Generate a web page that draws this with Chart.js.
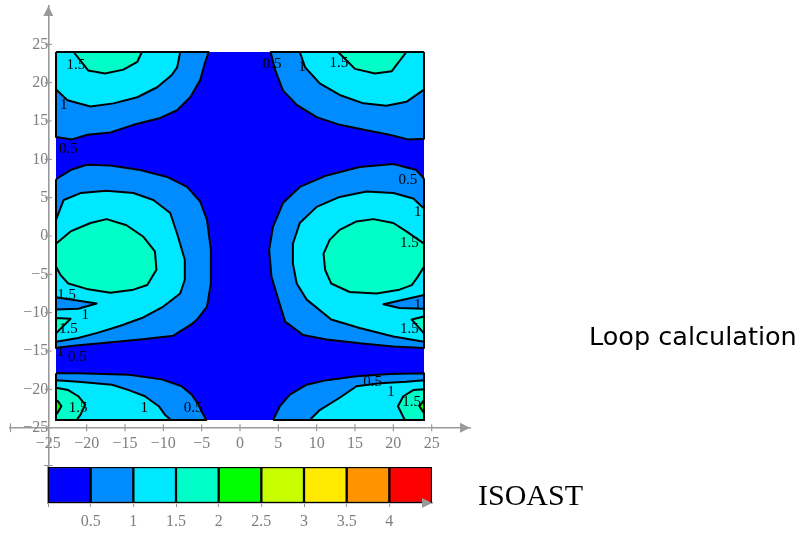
<!DOCTYPE html>
<html>
<head>
<meta charset="utf-8">
<script src="https://cdn.jsdelivr.net/npm/chart.js@4/dist/chart.umd.min.js"></script>
<style>
  html, body { margin: 0; padding: 0; background: #fff; }
  #wrap { position: relative; width: 802px; height: 537px; overflow: hidden; }
  #main { position: absolute; left: 0; top: 0; }
  #scale { position: absolute; left: 0; top: 455px; }
</style>
</head>
<body>
<div id="wrap">
  <canvas id="main" width="802" height="537"></canvas>
  <canvas id="scale" width="802" height="82"></canvas>
</div>
<script>
// ---- axis ticks and colour levels ----
const axisTicks = [-25, -20, -15, -10, -5, 0, 5, 10, 15, 20, 25];
const levelLow  = [0, 0.5, 1, 1.5, 2, 2.5, 3, 3.5, 4];
const levelHigh = [0.5, 1, 1.5, 2, 2.5, 3, 3.5, 4, 4.5];
const levelTicks = [0, 0.5, 1, 1.5, 2, 2.5, 3, 3.5, 4];
const levelColors = ['#0000ff', '#008cff', '#00e8ff', '#00ffc8', '#00ff00',
                     '#c8ff00', '#ffea00', '#ff9400', '#ff0000'];

// computed field covers the square [-24, 24] x [-24, 24]
const fieldArea = [[-24, -24], [24, -24], [24, 24], [-24, 24]];

// ---- iso-regions, one closed ring per region, [x, y] ----
// upper left
const tl05 = [[-24,24],[-4.1,24],[-4.6,22.5],[-5.2,20.3],[-6.5,18.1],[-8.2,16.4],[-10.4,15.4],[-13.9,14.5],[-16.9,13.5],[-19.9,13.2],[-21.9,12.6],[-24,12.9]];
const tl10 = [[-24,24],[-7.8,24],[-8.2,22.0],[-8.9,21.0],[-10.8,19.4],[-13.4,18.1],[-16.5,17.3],[-19.5,16.9],[-22.5,17.7],[-24,19.1]];
const tl15 = [[-21.7,24],[-12.8,24],[-13.4,22.7],[-15.2,21.7],[-17.6,21.2],[-19.8,21.6]];
// upper right
const tr05 = [[24,24],[4.0,24],[4.6,21.6],[5.6,19.0],[7.4,17.1],[10.0,15.5],[13.0,14.5],[16.5,13.8],[19.5,13.2],[21.9,12.6],[24,12.7]];
const tr10 = [[24,24],[7.8,24],[8.5,22.0],[10.4,19.9],[13.0,18.4],[16.1,17.3],[19.1,17.0],[21.7,17.5],[24,19.1]];
const tr15 = [[21.7,24],[12.8,24],[15.0,21.8],[17.6,21.2],[19.8,21.5]];
// middle left
const ml05 = [[-24,7.4],[-22.1,8.6],[-20.0,9.3],[-16.9,9.2],[-13.0,8.6],[-9.5,7.7],[-6.9,6.4],[-5.2,4.5],[-4.3,2.1],[-3.8,-1.8],[-3.8,-6.2],[-4.3,-9.2],[-5.6,-10.9],[-6.3,-11.5],[-8.7,-13.0],[-13.0,-13.5],[-18.2,-14.0],[-21.7,-14.3],[-24,-14.6]];
const ml10 = [[-24,2.1],[-23.0,4.7],[-20.8,5.6],[-17.4,5.9],[-13.9,5.6],[-11.3,4.7],[-9.1,3.0],[-8.2,0.3],[-7.2,-3.1],[-7.2,-5.7],[-7.8,-7.5],[-10.0,-9.2],[-12.8,-10.7],[-15.6,-11.7],[-18.5,-12.6],[-21.1,-13.3],[-24,-13.8],[-24,-9.6],[-21.1,-9.5],[-18.7,-8.8],[-24,-8.0]];
const ml15 = [[-24,-1.0],[-22.1,0.6],[-19.5,1.7],[-17.4,2.2],[-14.8,1.4],[-12.6,-0.1],[-11.1,-2.0],[-10.9,-4.4],[-12.1,-6.4],[-13.9,-7.0],[-16.9,-7.4],[-20.0,-6.9],[-22.4,-6.2],[-23.4,-5.1],[-24,-4.0]];
const ml15b = [[-24,-10.7],[-22.1,-10.8],[-24,-12.7]];
// middle right
const mr05 = [[24,7.5],[23.0,8.6],[20.0,9.4],[15.6,9.0],[11.3,7.9],[7.8,6.4],[5.6,4.3],[4.3,1.2],[3.8,-1.8],[4.1,-5.3],[5.0,-8.3],[5.9,-11.2],[6.5,-11.6],[8.2,-12.9],[11.3,-13.5],[15.6,-14.0],[20.0,-14.4],[24,-14.6]];
const mr10 = [[24,3.6],[22.6,4.9],[20.0,5.6],[16.5,5.8],[13.0,5.1],[10.0,3.8],[7.8,1.7],[6.9,-1.0],[6.9,-3.6],[7.4,-6.2],[8.7,-8.3],[11.9,-10.9],[15.6,-12.0],[20.0,-13.1],[24,-13.8],[24,-9.5],[20.8,-9.4],[18.7,-8.9],[24,-7.7]];
const mr15 = [[24,-1.0],[21.7,0.6],[20.0,1.7],[17.4,2.2],[15.2,1.9],[13.0,0.8],[11.7,-0.5],[10.9,-2.3],[11.1,-4.4],[11.9,-6.2],[14.3,-7.3],[17.8,-7.5],[20.8,-7.0],[22.4,-6.4],[23.2,-5.3],[24,-4.0]];
const mr15b = [[24,-10.5],[22.4,-10.9],[24,-12.7]];
// lower left
const bl05 = [[-24,-17.9],[-21.1,-17.9],[-14.5,-18.1],[-10.2,-18.7],[-7.6,-19.6],[-6.3,-20.7],[-5.4,-22.0],[-5.0,-22.9],[-4.4,-24],[-24,-24]];
const bl10 = [[-24,-18.8],[-21.1,-19.0],[-16.7,-19.4],[-14.5,-20.1],[-12.4,-20.9],[-10.6,-22.2],[-9.8,-23.3],[-9.0,-24],[-24,-24]];
const bl15 = [[-24,-19.8],[-22.4,-20.1],[-21.1,-20.9],[-20.2,-22.0],[-20.8,-23.3],[-21.3,-24],[-24,-24]];
const bl20 = [[-24,-21.4],[-23.7,-21.6],[-23.3,-22.2],[-23.7,-22.9],[-24,-23.3]];
// lower right
const br05 = [[4.3,-24],[5.2,-22.2],[6.5,-20.7],[8.7,-19.4],[11.3,-18.8],[15.2,-18.3],[19.5,-18.0],[24,-17.9],[24,-24]];
const br10 = [[9.1,-24],[10.4,-22.7],[13.0,-21.1],[15.2,-19.6],[18.2,-19.2],[21.7,-19.0],[24,-18.8],[24,-24]];
const br15 = [[21.5,-24],[20.6,-22.2],[21.3,-20.9],[22.6,-20.1],[24,-20.0],[24,-24]];
const br20 = [[24,-21.4],[23.4,-22.2],[24,-23.1]];

// rings grouped by the level they enclose (index into levelColors)
const ringsAbove05 = [tl05, tr05, ml05, mr05, bl05, br05];
const ringsAbove10 = [tl10, tr10, ml10, mr10, bl10, br10];
const ringsAbove15 = [tl15, tr15, ml15, ml15b, mr15, mr15b, bl15, br15];
const ringsAbove20 = [bl20, br20];

// contour value labels
const labelText = ['1.5','1','0.5', '0.5','1','1.5',
                   '1.5','1','1.5','1','0.5',
                   '0.5','1','1.5','1','1.5',
                   '1.5','1','0.5', '0.5','1','1.5'];
const labelX = [-21.4,-23.0,-22.4, 4.2,8.1,12.9,
                -22.6,-20.2,-22.4,-23.4,-21.2,
                21.9,23.2,22.1,23.2,22.1,
                -21.1,-12.5,-6.1, 17.3,19.7,22.4];
const labelY = [22.3,17.1,11.3, 22.4,22.1,22.5,
                -7.7,-10.3,-12.2,-15.1,-15.8,
                7.3,3.1,-0.9,-9.0,-12.2,
                -22.4,-22.4,-22.5, -19.1,-20.3,-21.6];

// ---- styling ----
const AXIS_GREY = '#9a9a9a';
const TEXT_GREY = '#7f7f7f';
const SERIF = '"Liberation Serif", "DejaVu Serif", serif';
const fmt = v => String(v).replace('-', '\u2212');

function ring(points, colorIndex, order, stroke) {
  const data = points.map(p => ({ x: p[0], y: p[1] }));
  data.push({ x: points[0][0], y: points[0][1] });
  return {
    data,
    showLine: true,
    fill: 'shape',
    backgroundColor: levelColors[colorIndex],
    borderColor: '#000',
    borderWidth: stroke ? 2 : 0,
    borderJoinStyle: 'round',
    pointRadius: 0,
    tension: 0,
    order
  };
}

const datasets = [ring(fieldArea, 0, 100, false)];
ringsAbove05.forEach(r => datasets.push(ring(r, 1, 40, true)));
ringsAbove10.forEach(r => datasets.push(ring(r, 2, 30, true)));
ringsAbove15.forEach(r => datasets.push(ring(r, 3, 20, true)));
ringsAbove20.forEach(r => datasets.push(ring(r, 4, 10, true)));

function arrow(ctx, tipX, tipY, dir) {
  // dir: 'right' or 'up'
  ctx.beginPath();
  if (dir === 'right') {
    ctx.moveTo(tipX, tipY);
    ctx.lineTo(tipX - 10, tipY - 5);
    ctx.lineTo(tipX - 10, tipY + 5);
  } else {
    ctx.moveTo(tipX, tipY);
    ctx.lineTo(tipX - 5, tipY + 10);
    ctx.lineTo(tipX + 5, tipY + 10);
  }
  ctx.closePath();
  ctx.fill();
}

// keep the axes' label overhang from shrinking the plot area
const noPadX = s => { s.paddingLeft = 0; s.paddingRight = 0; };
const noPadY = s => { s.paddingTop = 0; s.paddingBottom = 0; };

const plotDecor = {
  id: 'plotDecor',
  afterDatasetsDraw(chart) {
    const { ctx, scales: { x, y } } = chart;
    ctx.save();
    ctx.beginPath();
    ctx.rect(x.getPixelForValue(-24), y.getPixelForValue(24),
             x.getPixelForValue(24) - x.getPixelForValue(-24),
             y.getPixelForValue(-24) - y.getPixelForValue(24));
    ctx.clip();
    ctx.fillStyle = '#000';
    ctx.font = '15px ' + SERIF;
    ctx.textAlign = 'center';
    ctx.textBaseline = 'middle';
    labelText.forEach((t, i) => {
      ctx.fillText(t, x.getPixelForValue(labelX[i]), y.getPixelForValue(labelY[i]));
    });
    ctx.restore();
  },
  afterDraw(chart) {
    const { ctx, chartArea, scales: { x, y } } = chart;
    const ax = x.getPixelForValue(-25);
    const ay = y.getPixelForValue(-25);
    ctx.save();
    ctx.strokeStyle = AXIS_GREY;
    ctx.fillStyle = AXIS_GREY;
    ctx.lineWidth = 1.2;
    ctx.beginPath();
    axisTicks.forEach(v => {
      const px = x.getPixelForValue(v);
      ctx.moveTo(px, ay - 3.5); ctx.lineTo(px, ay + 3.5);
      const py = y.getPixelForValue(v);
      ctx.moveTo(ax - 3.5, py); ctx.lineTo(ax + 3.5, py);
    });
    // bars at the start of each axis
    ctx.moveTo(chartArea.left + 0.5, ay - 4.5); ctx.lineTo(chartArea.left + 0.5, ay + 4.5);
    ctx.moveTo(ax - 4.5, chartArea.bottom - 0.5); ctx.lineTo(ax + 4.5, chartArea.bottom - 0.5);
    ctx.stroke();
    arrow(ctx, chartArea.right, ay, 'right');
    arrow(ctx, ax, chartArea.top, 'up');

    ctx.fillStyle = '#000';
    ctx.font = '25.5px "DejaVu Sans", sans-serif';
    ctx.textAlign = 'left';
    ctx.textBaseline = 'alphabetic';
    ctx.fillText('Loop calculation', 589, 345);
    ctx.restore();
  }
};

new Chart(document.getElementById('main'), {
  type: 'scatter',
  data: { datasets },
  options: {
    responsive: false,
    animation: false,
    events: [],
    layout: { padding: { left: 10, right: 332, top: 6, bottom: 71 } },
    plugins: { legend: { display: false }, tooltip: { enabled: false } },
    scales: {
      x: {
        type: 'linear', min: -30, max: 30, position: { y: -25 },
        afterBuildTicks: s => { s.ticks = axisTicks.map(v => ({ value: v })); },
        afterFit: noPadX,
        grid: { display: false, drawTicks: false },
        border: { display: true, color: AXIS_GREY, width: 1.6 },
        ticks: { padding: 7, color: TEXT_GREY, autoSkip: false, maxRotation: 0,
                 font: { family: SERIF, size: 16 }, callback: v => fmt(v) }
      },
      y: {
        type: 'linear', min: -30, max: 30, position: { x: -25 },
        afterBuildTicks: s => { s.ticks = axisTicks.map(v => ({ value: v })); },
        afterFit: noPadY,
        grid: { display: false, drawTicks: false },
        border: { display: true, color: AXIS_GREY, width: 1.6 },
        ticks: { padding: 9, color: TEXT_GREY, autoSkip: false,
                 font: { family: SERIF, size: 16 }, callback: v => fmt(v) }
      }
    }
  },
  plugins: [plotDecor]
});

// ---- colour scale ----
const scaleDecor = {
  id: 'scaleDecor',
  afterDraw(chart) {
    const { ctx, chartArea } = chart;
    ctx.save();
    ctx.fillStyle = AXIS_GREY;
    arrow(ctx, chartArea.right, chartArea.bottom, 'right');
    ctx.fillStyle = '#000';
    ctx.font = '30px ' + SERIF;
    ctx.textAlign = 'left';
    ctx.textBaseline = 'alphabetic';
    ctx.fillText('ISOAST', 478, 50);
    ctx.restore();
  }
};

new Chart(document.getElementById('scale'), {
  type: 'bar',
  data: {
    datasets: [{
      data: levelLow.map((lo, i) => ({ x: (lo + levelHigh[i]) / 2, y: 1 })),
      backgroundColor: levelColors,
      borderColor: '#000',
      borderWidth: 1.5,
      borderSkipped: false,
      barPercentage: 1,
      categoryPercentage: 1
    }]
  },
  options: {
    responsive: false,
    animation: false,
    events: [],
    layout: { padding: { left: 48, right: 370, top: 12, bottom: 0 } },
    plugins: { legend: { display: false }, tooltip: { enabled: false } },
    scales: {
      x: {
        type: 'linear', min: 0, max: 4.5, offset: false, position: 'bottom',
        afterFit: s => { s.height = 34; s.paddingLeft = 0; s.paddingRight = 0; },
        afterBuildTicks: s => { s.ticks = levelTicks.map(v => ({ value: v })); },
        grid: { display: true, drawOnChartArea: false, drawTicks: true, tickLength: 4,
                color: AXIS_GREY, offset: false },
        border: { display: true, color: AXIS_GREY, width: 1.6 },
        ticks: { padding: 5, color: TEXT_GREY, autoSkip: false, maxRotation: 0,
                 font: { family: SERIF, size: 16 }, callback: v => (v === 0 ? '' : fmt(v)) }
      },
      y: {
        type: 'linear', min: 0, max: 1, position: 'left',
        afterFit: s => { s.width = 0; s.paddingTop = 0; s.paddingBottom = 0; },
        grid: { display: false, drawTicks: false },
        border: { display: true, color: AXIS_GREY, width: 1.6 },
        ticks: { display: false }
      }
    }
  },
  plugins: [scaleDecor]
});
</script>
</body>
</html>
